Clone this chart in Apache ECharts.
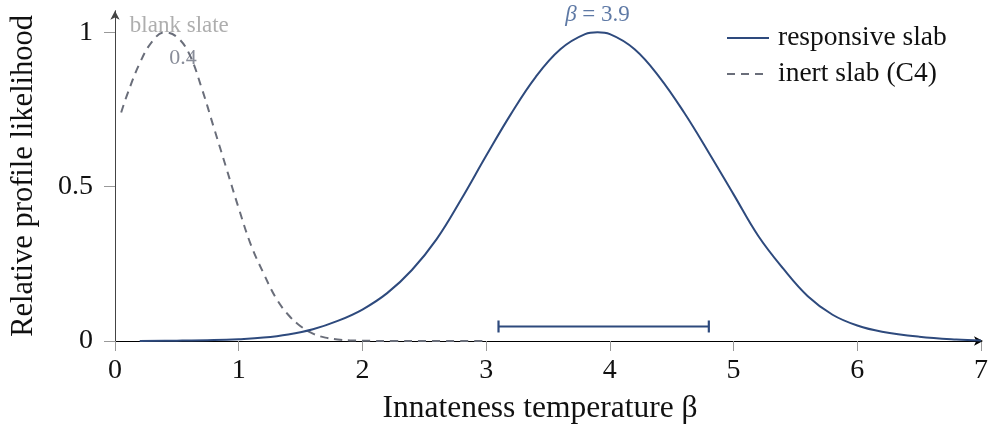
<!DOCTYPE html>
<html>
<head>
<meta charset="utf-8">
<script src="https://cdn.jsdelivr.net/npm/echarts@6/dist/echarts.min.js"></script>
<style>html,body{margin:0;padding:0;background:#fff}#c{width:991px;height:430px}</style>
</head>
<body>
<div id="c"></div>
<script>
// ---- data ----
const inertX = [0.05,0.1,0.2,0.3,0.4,0.5,0.6,0.7,0.8,0.9,1.0,1.1,1.2,1.3,1.4,1.5,1.6,1.7,1.8,1.9,2.0,2.25,2.5,3.0];
const inertY = [0.74,0.80,0.90,0.97,1.00,0.985,0.93,0.82,0.69,0.56,0.43,0.31,0.22,0.14,0.085,0.048,0.024,0.011,0.005,0.002,0.001,0,0,0];
const respX = [0.2,0.5,0.8,1.0,1.2,1.4,1.6,1.8,2.0,2.2,2.4,2.6,2.8,3.0,3.2,3.4,3.6,3.8,3.9,4.0,4.2,4.4,4.6,4.8,5.0,5.2,5.4,5.6,5.8,6.0,6.2,6.5,6.8,7.0];
const respY = [0.0,0.001,0.003,0.006,0.011,0.021,0.038,0.065,0.102,0.155,0.23,0.33,0.46,0.6,0.735,0.855,0.945,0.994,1.0,0.994,0.945,0.855,0.74,0.61,0.475,0.34,0.235,0.145,0.085,0.05,0.03,0.014,0.005,0.002];
const errBar = [3.1, 4.8, 0.047];          // low, high, level
const xTicks = [0,1,2,3,4,5,6,7];
const yTicks = [0,0.5,1];
const seriesNames = ['responsive slab','inert slab (C4)'];
const annText = ['β = 3.9','blank slate','0.4'];
const annX = [3.9, 0.52, 0.55];
const annY = [1.056, 1.022, 0.917];

const FONT = '"Liberation Serif", "DejaVu Serif", serif';
const BLUE = '#2e4a7d';
const GRAY = '#6a6e7a';
const ANN_COLORS = ['#36578f', '#9a9a9a', '#6b7080'];

const chart = echarts.init(document.getElementById('c'), null, {renderer:'canvas'});
const zip = (a,b)=>a.map((v,i)=>[v,b[i]]);

chart.setOption({
  animation:false,
  textStyle:{fontFamily:FONT},
  grid:{left:114.3, right:9.4, top:10.7, bottom:88.7, containLabel:false},
  legend:{
    orient:'vertical', left:726, top:24, padding:0, itemWidth:42, itemHeight:14, itemGap:8,
    itemStyle:{color:'rgba(0,0,0,0)', borderColor:'rgba(0,0,0,0)', borderWidth:0, opacity:0},
    textStyle:{fontFamily:FONT, fontSize:27.5, color:'#111', padding:[0,0,0,4]},
    data:seriesNames
  },
  xAxis:{
    type:'value', min:0, max:7, interval:1,
    name:'Innateness temperature β', nameLocation:'middle', nameGap:52,
    nameTextStyle:{fontFamily:FONT, fontSize:31.5, color:'#111', padding:[0,16,0,0]},
    axisLine:{show:true, lineStyle:{color:'#000', width:1}, symbol:['none','arrow'], symbolSize:[7,9], symbolOffset:[0,2]},
    axisTick:{show:true, length:10, lineStyle:{color:'#999'}, customValues:xTicks},
    axisLabel:{fontFamily:FONT, fontSize:28, color:'#111', margin:16, customValues:xTicks},
    splitLine:{show:false}
  },
  yAxis:{
    type:'value', min:0, max:1.07,
    name:'Relative profile likelihood', nameLocation:'middle', nameGap:76, nameRotate:90,
    nameTextStyle:{fontFamily:FONT, fontSize:30.5, color:'#111'},
    axisLine:{show:true, lineStyle:{color:'#444', width:1}, symbol:['none','arrow'], symbolSize:[7,9]},
    axisTick:{show:true, length:11, lineStyle:{color:'#999'}, customValues:yTicks},
    axisLabel:{fontFamily:FONT, fontSize:28, color:'#111', margin:22, customValues:yTicks},
    splitLine:{show:false}
  },
  series:[
    {
      name:seriesNames[0], type:'line', data:zip(respX,respY), smooth:0.4,
      showSymbol:false, symbol:'none', lineStyle:{color:BLUE, width:2}, itemStyle:{color:BLUE}, z:3
    },
    {
      name:seriesNames[1], type:'line', data:zip(inertX,inertY), smooth:0.4,
      showSymbol:false, symbol:'none', lineStyle:{color:GRAY, width:2, type:[8,6]}, itemStyle:{color:GRAY}, z:2
    },
    {
      type:'custom', silent:true, z:4,
      data:[errBar],
      renderItem:function(params, api){
        const p1 = api.coord([api.value(0), api.value(2)]);
        const p2 = api.coord([api.value(1), api.value(2)]);
        const h = 6;
        const st = {stroke:BLUE, lineWidth:2.2};
        return {type:'group', children:[
          {type:'line', shape:{x1:p1[0],y1:p1[1],x2:p2[0],y2:p2[1]}, style:st},
          {type:'line', shape:{x1:p1[0],y1:p1[1]-h,x2:p1[0],y2:p1[1]+h}, style:st},
          {type:'line', shape:{x1:p2[0],y1:p2[1]-h,x2:p2[0],y2:p2[1]+h}, style:st}
        ]};
      }
    },
    {
      type:'scatter', silent:true, symbolSize:0, z:5,
      data:annText.map((t,i)=>({value:[annX[i],annY[i]], name:t,
        label:{color:ANN_COLORS[i], fontSize: i===1 ? 23 : 22}})),
      label:{
        show:true, position:'inside', fontFamily:FONT,
        formatter:function(p){
          if(p.dataIndex===0) return '{bi|β}{b| = 3.9}';
          return p.name;
        },
        rich:{
          bi:{fontFamily:FONT, fontStyle:'italic', fontSize:23, color:ANN_COLORS[0]},
          b:{fontFamily:FONT, fontSize:23, color:ANN_COLORS[0]}
        }
      }
    }
  ]
});
</script>
</body>
</html>
